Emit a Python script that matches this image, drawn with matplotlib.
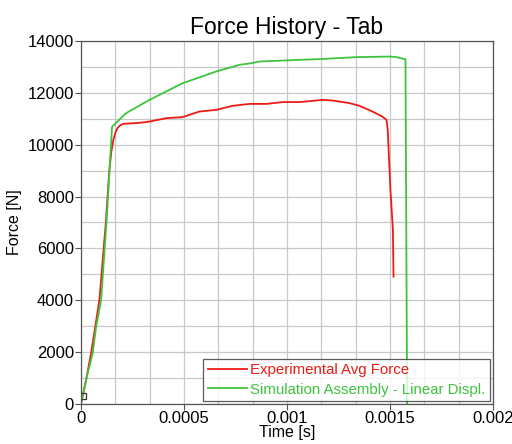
import numpy as np
import matplotlib
matplotlib.use("Agg")
import matplotlib.pyplot as plt
from matplotlib.ticker import MultipleLocator

plt.rcParams['font.family'] = ['Liberation Sans', 'DejaVu Sans']

# ==========================================
# DONNEES
# ==========================================
exp_t = [0, 0.0000252, 0.0000495, 0.0000898, 0.000122, 0.000138, 0.000148, 0.000158,
         0.000168, 0.000178, 0.000190, 0.000205, 0.000284, 0.000333, 0.000415, 0.000493,
         0.000575, 0.000658, 0.000735, 0.000818, 0.000900, 0.000978, 0.001061, 0.001143,
         0.001172, 0.001221, 0.001303, 0.001352, 0.001415, 0.001463, 0.001483, 0.001489,
         0.001502, 0.001514, 0.001517]
exp_f = [0, 925, 1967, 4011, 7097, 9025, 9750, 10200,
         10480, 10640, 10740, 10800, 10840, 10890, 11020, 11060,
         11275, 11340, 11495, 11570, 11570, 11640, 11640, 11700,
         11725, 11700, 11600, 11495, 11275, 11080, 10950, 10568,
         8254, 6711, 4910]

sim_t = [0, 0.0000252, 0.0000573, 0.0000738, 0.0000981, 0.000125, 0.000151, 0.000219,
         0.000333, 0.000494, 0.000656, 0.000769, 0.000828, 0.000866, 0.001061, 0.001158,
         0.001337, 0.001498, 0.001532, 0.001570, 0.001575, 0.001583]
sim_f = [0, 925, 1967, 2970, 4011, 7097, 10684, 11212,
         11725, 12369, 12817, 13075, 13140, 13203, 13268, 13295,
         13372, 13395, 13372, 13295, 13290, 0]

marker_t = [0.00001]
marker_f = [300]

x_ticks = [0, 0.0005, 0.001, 0.0015, 0.002]
x_labels = ['0', '0.0005', '0.001', '0.0015', '0.002']
y_ticks = [0, 2000, 4000, 6000, 8000, 10000, 12000, 14000]
y_labels = ['0', '2000', '4000', '6000', '8000', '10000', '12000', '14000']

# ==========================================
# FIGURE
# ==========================================
fig = plt.figure(figsize=(5.12, 4.44), dpi=100)
ax = fig.add_axes([0.158, 0.090, 0.805, 0.818])

ax.plot(exp_t, exp_f, color='#f01a14', linewidth=1.3, label='Experimental Avg Force')
ax.plot(sim_t, sim_f, color='#3cc43c', linewidth=1.3, label='Simulation Assembly - Linear Displ.')
ax.plot(marker_t, marker_f, 's', markersize=4.5, markerfacecolor='none',
        markeredgecolor='#333333', markeredgewidth=0.9)

ax.set_xlim(0, 0.002)
ax.set_ylim(0, 14000)
ax.set_xticks(x_ticks)
ax.set_xticklabels(x_labels)
ax.set_yticks(y_ticks)
ax.set_yticklabels(y_labels)
ax.xaxis.set_minor_locator(MultipleLocator(0.0005 / 3))
ax.yaxis.set_minor_locator(MultipleLocator(1000))
ax.tick_params(which='major', labelsize=12, length=4, width=0.8, color='#555555', pad=1)
ax.tick_params(which='minor', length=0)
ax.grid(True, which='both', color='#c8c8c8', linewidth=0.9)
ax.set_axisbelow(True)
for sp in ax.spines.values():
    sp.set_color('#555555')
    sp.set_linewidth(0.9)

ax.set_title('Force History - Tab', fontsize=16.5, pad=5)
ax.set_xlabel('Time [s]', fontsize=11.5, labelpad=-1)
ax.set_ylabel('Force [N]', fontsize=11.5, labelpad=4)

leg = ax.legend(loc='lower right', fontsize=10.8, frameon=True, fancybox=False,
                edgecolor='#333333', handlelength=2.6, handletextpad=0.25,
                borderaxespad=0.2, borderpad=0.3, labelspacing=0.35)
leg.get_frame().set_linewidth(0.9)
for txt, line in zip(leg.get_texts(), leg.get_lines()):
    txt.set_color(line.get_color())

fig.savefig('out.png', dpi=100)
